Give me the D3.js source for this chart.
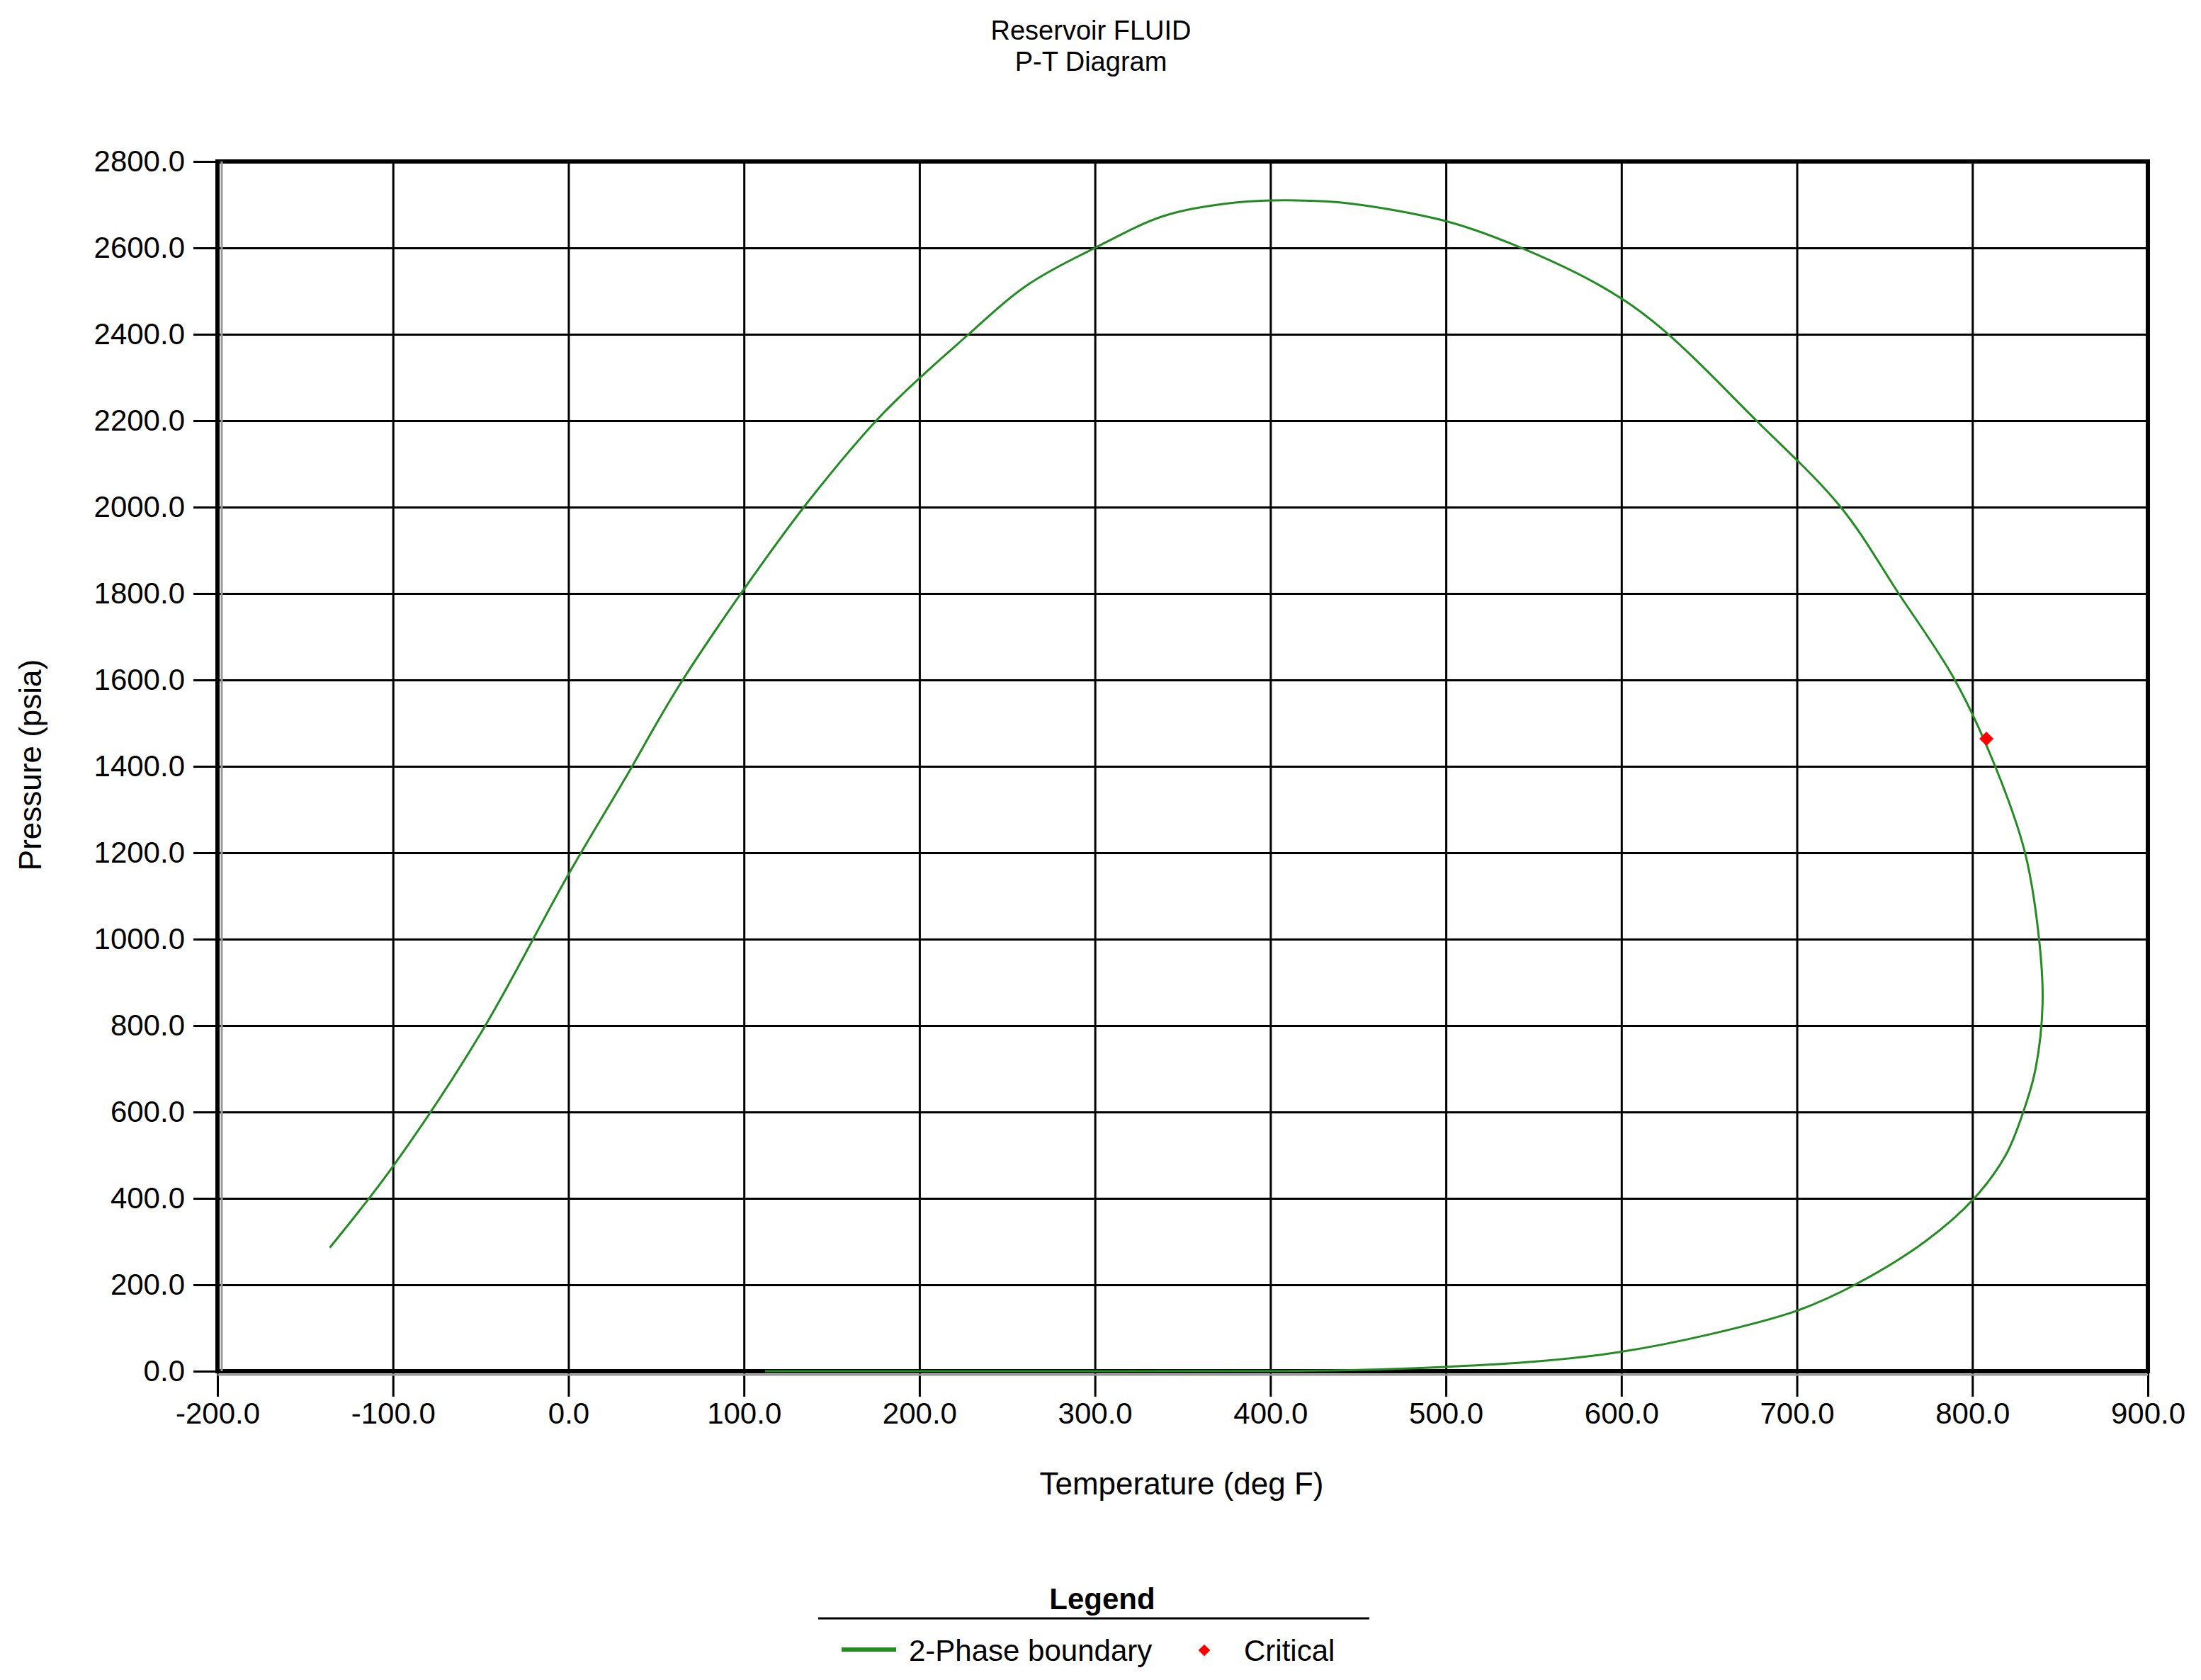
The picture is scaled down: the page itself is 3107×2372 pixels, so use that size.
<!DOCTYPE html>
<html><head><meta charset="utf-8">
<script src="https://cdn.jsdelivr.net/npm/d3@7"></script>
<style>body{margin:0;background:#fff}text{font-family:"Liberation Sans",Arial,sans-serif}</style>
</head><body><svg id="c" width="3107" height="2372"></svg>
<script>
const xTicks = [-200,-100,0,100,200,300,400,500,600,700,800,900];
const yTicks = [0,200,400,600,800,1000,1200,1400,1600,1800,2000,2200,2400,2600,2800];
const boundaryT = [-136,-100,-50,0,32,62,100,138,180,228,260,300,340,380,415,445,500,537,589,621,677,725,758,790,813,830,838,840,836,829,819,801,773,733,700,650,600,550,500,450,400,300,112];
const boundaryP = [286,474,782,1150,1370,1580,1810,2020,2220,2400,2510,2600,2675,2705,2710,2703,2662,2610,2510,2420,2200,2000,1800,1600,1400,1200,1000,850,700,600,500,400,300,200,140,85,45,22,10,3,0.5,0,0];
const criticalT = [808], criticalP = [1464];

const svg = d3.select("#c");
const L=307,R=3032,T=228,B=1936;
const x=d3.scaleLinear().domain([-200,900]).range([L,R]);
const y=d3.scaleLinear().domain([0,2800]).range([B,T]);
const fs=42;
svg.append("g").attr("transform",`translate(0,${B})`).call(d3.axisBottom(x).tickValues(xTicks).tickSize(-(B-T)).tickFormat(""))
  .call(g=>{g.select(".domain").remove();g.selectAll("line").attr("stroke","#000").attr("stroke-width",3);});
svg.append("g").attr("transform",`translate(${L},0)`).call(d3.axisLeft(y).tickValues(yTicks).tickSize(-(R-L)).tickFormat(""))
  .call(g=>{g.select(".domain").remove();g.selectAll("line").attr("stroke","#000").attr("stroke-width",3);});
svg.append("g").attr("transform",`translate(0,${B})`).call(d3.axisBottom(x).tickValues(xTicks).tickSize(36).tickPadding(8).tickFormat(d3.format(".1f")))
  .call(g=>{g.select(".domain").remove();g.selectAll("line").attr("stroke","#000").attr("stroke-width",3);
    g.selectAll("text").attr("font-size",fs).attr("fill","#000").attr("font-family","Liberation Sans").text(d=>d.toFixed(1));});
svg.append("g").attr("transform",`translate(${L},0)`).call(d3.axisLeft(y).tickValues(yTicks).tickSize(34).tickPadding(12).tickFormat(d3.format(".1f")))
  .call(g=>{g.select(".domain").remove();g.selectAll("line").attr("stroke","#000").attr("stroke-width",3);
    g.selectAll("text").attr("font-size",fs).attr("fill","#000").attr("font-family","Liberation Sans");});
svg.append("rect").attr("x",L).attr("y",T).attr("width",R-L).attr("height",B-T).attr("fill","none").attr("stroke","#000").attr("stroke-width",6);
svg.append("line").attr("x1",L+6).attr("x2",L+6).attr("y1",T).attr("y2",B).attr("stroke","#999").attr("stroke-width",3);
svg.append("line").attr("x1",L).attr("x2",R).attr("y1",B+5).attr("y2",B+5).attr("stroke","#999").attr("stroke-width",3);
const pts=boundaryT.map((t,i)=>[t,boundaryP[i]]);
svg.append("path").datum(pts).attr("fill","none").attr("stroke","#228b22").attr("stroke-width",3)
  .attr("d",d3.line().x(d=>x(d[0])).y(d=>y(d[1])).curve(d3.curveCatmullRom.alpha(0.5)));
const diamond=d3.symbol().type(d3.symbolSquare).size(200);
svg.selectAll(".crit").data(criticalT).enter().append("path").attr("d",diamond)
  .attr("transform",(d,i)=>`translate(${x(d)},${y(criticalP[i])}) rotate(45)`).attr("fill","#ff0000");
svg.append("text").attr("x",1540).attr("y",56).attr("text-anchor","middle").attr("font-size",38).text("Reservoir FLUID");
svg.append("text").attr("x",1540).attr("y",100).attr("text-anchor","middle").attr("font-size",38).text("P-T Diagram");
svg.append("text").attr("x",1668).attr("y",2110).attr("text-anchor","middle").attr("font-size",44).text("Temperature (deg F)");
svg.append("text").attr("transform","translate(58,1080) rotate(-90)").attr("text-anchor","middle").attr("font-size",44).text("Pressure (psia)");
svg.append("text").attr("x",1556).attr("y",2272).attr("text-anchor","middle").attr("font-size",42).attr("font-weight","bold").text("Legend");
svg.append("line").attr("x1",1155).attr("x2",1933).attr("y1",2285).attr("y2",2285).attr("stroke","#000").attr("stroke-width",3);
svg.append("line").attr("x1",1188).attr("x2",1265).attr("y1",2329).attr("y2",2329).attr("stroke","#228b22").attr("stroke-width",6);
svg.append("text").attr("x",1283).attr("y",2345).attr("font-size",42).text("2-Phase boundary");
svg.append("path").attr("d",d3.symbol().type(d3.symbolSquare).size(140)).attr("transform","translate(1700,2330) rotate(45)").attr("fill","#ff0000");
svg.append("text").attr("x",1756).attr("y",2345).attr("font-size",42).text("Critical");
</script></body></html>
